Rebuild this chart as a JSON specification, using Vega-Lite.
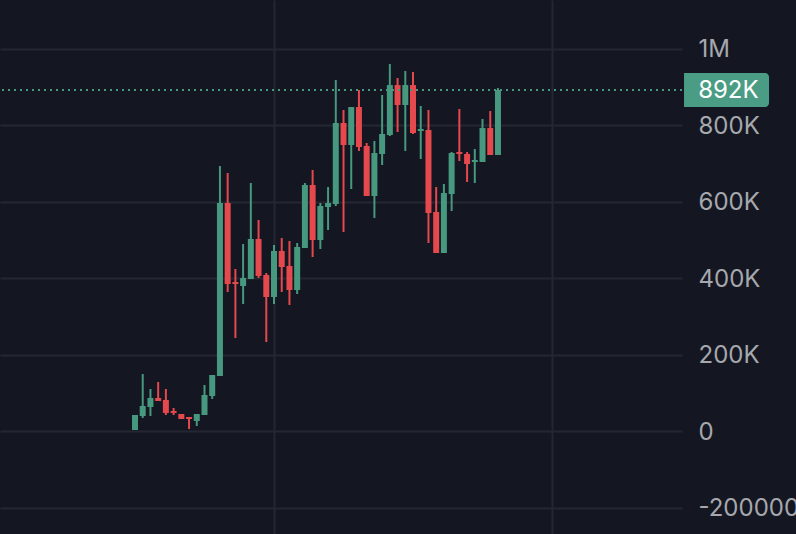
{
  "$schema": "https://vega.github.io/schema/vega-lite/v6.json",
  "width": 682,
  "height": 534,
  "autosize": "none",
  "padding": {"left": 0, "top": 0, "right": 114, "bottom": 0},
  "background": "#141722",
  "config": {
    "view": {"stroke": null},
    "font": "Inter",
    "axis": {"domain": false, "ticks": false, "title": null, "grid": true, "gridColor": "#242731", "gridWidth": 2}
  },
  "data": {
    "values": [
      {"i":0,"open":3900,"close":43100,"high":43100,"low":3900,"dir":"up"},
      {"i":1,"open":40500,"close":66700,"high":150300,"low":35300,"dir":"up"},
      {"i":2,"open":64000,"close":87600,"high":111100,"low":40500,"dir":"up"},
      {"i":3,"open":87600,"close":79700,"high":129400,"low":79700,"dir":"down"},
      {"i":4,"open":82300,"close":48400,"high":111100,"low":43100,"dir":"down"},
      {"i":5,"open":53600,"close":48400,"high":61400,"low":43100,"dir":"down"},
      {"i":6,"open":45700,"close":32700,"high":45700,"low":32700,"dir":"down"},
      {"i":7,"open":37900,"close":32700,"high":37900,"low":6500,"dir":"down"},
      {"i":8,"open":27400,"close":45700,"high":45700,"low":14400,"dir":"up"},
      {"i":9,"open":43100,"close":95400,"high":121600,"low":43100,"dir":"up"},
      {"i":10,"open":92800,"close":147700,"high":147700,"low":85000,"dir":"up"},
      {"i":11,"open":145100,"close":597300,"high":694000,"low":145100,"dir":"up"},
      {"i":12,"open":597300,"close":385600,"high":675700,"low":364700,"dir":"down"},
      {"i":13,"open":390800,"close":385600,"high":424800,"low":244400,"dir":"down"},
      {"i":14,"open":380300,"close":401200,"high":490100,"low":333300,"dir":"up"},
      {"i":15,"open":398600,"close":503200,"high":649600,"low":398600,"dir":"up"},
      {"i":16,"open":503200,"close":406500,"high":552900,"low":401200,"dir":"down"},
      {"i":17,"open":409100,"close":351600,"high":414300,"low":234000,"dir":"down"},
      {"i":18,"open":351600,"close":471800,"high":487500,"low":333300,"dir":"up"},
      {"i":19,"open":471800,"close":430000,"high":505800,"low":364700,"dir":"down"},
      {"i":20,"open":432600,"close":369900,"high":498000,"low":330700,"dir":"down"},
      {"i":21,"open":369900,"close":482300,"high":492700,"low":359400,"dir":"up"},
      {"i":22,"open":479700,"close":644400,"high":649600,"low":479700,"dir":"up"},
      {"i":23,"open":644400,"close":500600,"high":683600,"low":456100,"dir":"down"},
      {"i":24,"open":500600,"close":589500,"high":597300,"low":477000,"dir":"up"},
      {"i":25,"open":586800,"close":597300,"high":639100,"low":526700,"dir":"up"},
      {"i":26,"open":594700,"close":806400,"high":918800,"low":589500,"dir":"up"},
      {"i":27,"open":806400,"close":748900,"high":840400,"low":521500,"dir":"down"},
      {"i":28,"open":748900,"close":848200,"high":848200,"low":633900,"dir":"up"},
      {"i":29,"open":848200,"close":743700,"high":892700,"low":733200,"dir":"down"},
      {"i":30,"open":746300,"close":615600,"high":754100,"low":615600,"dir":"down"},
      {"i":31,"open":615600,"close":728000,"high":759400,"low":558000,"dir":"up"},
      {"i":32,"open":725400,"close":777700,"high":879600,"low":696700,"dir":"up"},
      {"i":33,"open":775000,"close":905700,"high":960600,"low":772400,"dir":"up"},
      {"i":34,"open":905700,"close":853500,"high":924000,"low":782900,"dir":"down"},
      {"i":35,"open":853500,"close":905700,"high":942400,"low":733200,"dir":"up"},
      {"i":36,"open":905700,"close":780300,"high":939800,"low":777700,"dir":"down"},
      {"i":37,"open":785500,"close":790700,"high":850900,"low":712300,"dir":"up"},
      {"i":38,"open":788100,"close":571200,"high":840400,"low":492700,"dir":"down"},
      {"i":39,"open":573800,"close":466600,"high":639100,"low":466600,"dir":"down"},
      {"i":40,"open":466600,"close":623400,"high":647000,"low":466600,"dir":"up"},
      {"i":41,"open":620800,"close":728000,"high":730600,"low":576400,"dir":"up"},
      {"i":42,"open":730600,"close":725400,"high":843000,"low":707000,"dir":"down"},
      {"i":43,"open":725400,"close":699300,"high":730600,"low":652200,"dir":"down"},
      {"i":44,"open":704500,"close":709700,"high":738500,"low":649600,"dir":"up"},
      {"i":45,"open":704500,"close":793300,"high":816900,"low":704500,"dir":"up"},
      {"i":46,"open":793300,"close":722800,"high":837800,"low":722800,"dir":"down"},
      {"i":47,"open":722800,"close":892700,"high":897900,"low":722800,"dir":"up"}
    ]
  },
  "layer": [
    {
      "mark": {"type": "rule", "strokeWidth": 2},
      "encoding": {
        "x": {
          "field": "i",
          "type": "quantitative",
          "scale": {"domain": [-17.48, 70.83], "nice": false, "zero": false, "padding": 0},
          "axis": {"values": [18, 54], "labels": false}
        },
        "y": {
          "field": "low",
          "type": "quantitative",
          "scale": {"domain": [-268000, 1128000], "nice": false, "zero": false, "padding": 0},
          "axis": {
            "orient": "right",
            "values": [-200000, 0, 200000, 400000, 600000, 800000, 1000000],
            "labelExpr": "datum.value == 1000000 ? '1M' : datum.value == -200000 ? '-200000' : datum.value == 0 ? '0' : (datum.value / 1000) + 'K'",
            "labelFontSize": 24,
            "labelColor": "#A6A8AD",
            "labelPadding": 16,
            "labelOffset": 1,
            "labelOverlap": false,
            "labelBound": false,
            "labelFlush": false
          }
        },
        "y2": {"field": "high"},
        "color": {
          "field": "dir",
          "type": "nominal",
          "legend": null,
          "scale": {"domain": ["up", "down"], "range": ["#46987F", "#E5484D"]}
        }
      }
    },
    {
      "mark": {"type": "bar", "size": 6},
      "encoding": {
        "x": {"field": "i", "type": "quantitative"},
        "y": {"field": "open", "type": "quantitative"},
        "y2": {"field": "close"},
        "color": {"field": "dir", "type": "nominal", "legend": null}
      }
    },
    {
      "data": {"values": [{"last": 892700}]},
      "mark": {"type": "rule", "strokeWidth": 2, "strokeDash": [2, 4], "color": "#46987F"},
      "encoding": {
        "y": {"field": "last", "type": "quantitative"}
      }
    },
    {
      "data": {"values": [{"last": 892700, "from": 71.09, "to": 82.1}]},
      "mark": {"type": "bar", "orient": "horizontal", "size": 34, "cornerRadiusTopRight": 4, "cornerRadiusBottomRight": 4, "color": "#4A9C84", "clip": false},
      "encoding": {
        "x": {"field": "from", "type": "quantitative"},
        "x2": {"field": "to"},
        "y": {"field": "last", "type": "quantitative"}
      }
    },
    {
      "data": {"values": [{"last": 892700, "at": 72.92, "label": "892K"}]},
      "mark": {"type": "text", "align": "left", "baseline": "middle", "dy": 1, "fontSize": 24, "font": "Inter", "color": "#FFFFFF", "clip": false},
      "encoding": {
        "x": {"field": "at", "type": "quantitative"},
        "y": {"field": "last", "type": "quantitative"},
        "text": {"field": "label"}
      }
    }
  ]
}
